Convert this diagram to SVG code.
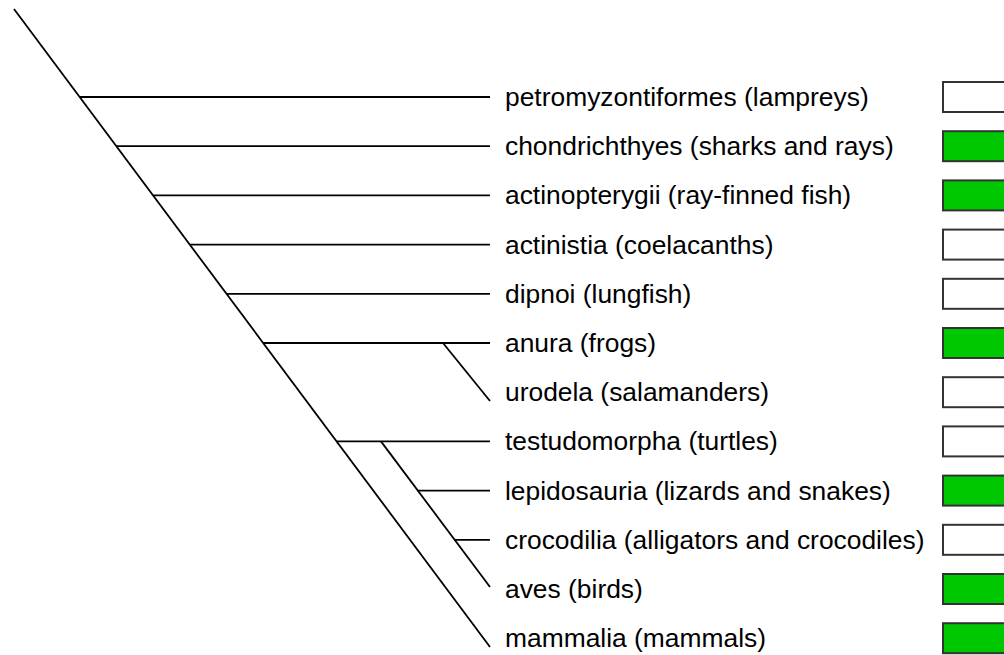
<svg xmlns="http://www.w3.org/2000/svg" width="1004" height="655" viewBox="0 0 1004 655">
<style>
.ln{stroke:#000;stroke-width:1.8;fill:none}
.lb{font-family:"Liberation Sans",Arial,sans-serif;font-size:26.4px;fill:#000}
.bx{stroke:#333;stroke-width:2}
.y{fill:#00c800}
.n{fill:#fff}
</style>
<rect width="1004" height="655" fill="#fff"/>
<g id="connectors">
<line class="ln" x1="14" y1="9" x2="490" y2="647"/>
<line class="ln" x1="79.6" y1="97" x2="490" y2="97"/>
<line class="ln" x1="116.4" y1="146.2" x2="490" y2="146.2"/>
<line class="ln" x1="153.1" y1="195.4" x2="490" y2="195.4"/>
<line class="ln" x1="189.8" y1="244.6" x2="490" y2="244.6"/>
<line class="ln" x1="226.5" y1="293.8" x2="490" y2="293.8"/>
<line class="ln" x1="263.2" y1="343" x2="490" y2="343"/>
<line class="ln" x1="443" y1="343" x2="490" y2="401"/>
<line class="ln" x1="336.6" y1="441.4" x2="490" y2="441.4"/>
<line class="ln" x1="381" y1="441.4" x2="490" y2="587"/>
<line class="ln" x1="417.7" y1="490.6" x2="490" y2="490.6"/>
<line class="ln" x1="454.4" y1="539.8" x2="490" y2="539.8"/>
</g>
<g id="n1"><text class="lb" x="505" y="106">petromyzontiformes (lampreys)</text><rect class="bx n" x="943" y="82" width="80" height="30"/></g>
<g id="n2"><text class="lb" x="505" y="155.2">chondrichthyes (sharks and rays)</text><rect class="bx y" x="943" y="131.2" width="80" height="30"/></g>
<g id="n3"><text class="lb" x="505" y="204.4">actinopterygii (ray-finned fish)</text><rect class="bx y" x="943" y="180.4" width="80" height="30"/></g>
<g id="n4"><text class="lb" x="505" y="253.6">actinistia (coelacanths)</text><rect class="bx n" x="943" y="229.6" width="80" height="30"/></g>
<g id="n5"><text class="lb" x="505" y="302.8">dipnoi (lungfish)</text><rect class="bx n" x="943" y="278.8" width="80" height="30"/></g>
<g id="n6"><text class="lb" x="505" y="352">anura (frogs)</text><rect class="bx y" x="943" y="328" width="80" height="30"/></g>
<g id="n7"><text class="lb" x="505" y="401.2">urodela (salamanders)</text><rect class="bx n" x="943" y="377.2" width="80" height="30"/></g>
<g id="n8"><text class="lb" x="505" y="450.4">testudomorpha (turtles)</text><rect class="bx n" x="943" y="426.4" width="80" height="30"/></g>
<g id="n9"><text class="lb" x="505" y="499.6">lepidosauria (lizards and snakes)</text><rect class="bx y" x="943" y="475.6" width="80" height="30"/></g>
<g id="n10"><text class="lb" x="505" y="548.8">crocodilia (alligators and crocodiles)</text><rect class="bx n" x="943" y="524.8" width="80" height="30"/></g>
<g id="n11"><text class="lb" x="505" y="598">aves (birds)</text><rect class="bx y" x="943" y="574" width="80" height="30"/></g>
<g id="n12"><text class="lb" x="505" y="647.2">mammalia (mammals)</text><rect class="bx y" x="943" y="623.2" width="80" height="30"/></g>
</svg>
